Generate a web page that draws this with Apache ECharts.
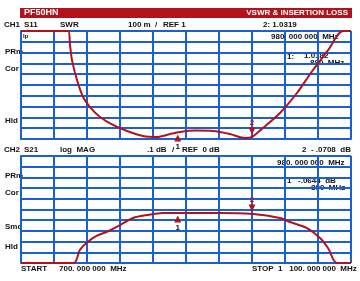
<!DOCTYPE html>
<html><head><meta charset="utf-8">
<script src="https://cdn.jsdelivr.net/npm/echarts@6/dist/echarts.min.js"></script>
<style>html,body{margin:0;padding:0;background:#fff}#c{width:360px;height:281px}</style>
</head><body><div id="c"></div>
<script>
// Frequencies (MHz) and values
const swrFreq = [700, 757, 759.4, 761.8, 767.9, 775.2, 783.6, 795.8, 811.5, 828.5, 847.9, 864.8, 880.6, 892.7, 912, 932.7, 953.3, 971.5, 980, 993.3, 1013.9, 1034.5, 1053.9, 1072, 1090.3, 1100];
const swrVal  = [2.0, 2.0, 1.87, 1.73, 1.546, 1.389, 1.296, 1.204, 1.13, 1.074, 1.028, 1.019, 1.046, 1.065, 1.078, 1.074, 1.046, 1.009, 1.019, 1.102, 1.241, 1.426, 1.639, 1.82, 2.0, 2.0];
const s21Freq = [700, 763.6, 771.5, 781.2, 792.1, 804.2, 819.9, 835.7, 852.7, 872.1, 892.7, 941.2, 981.2, 1013.9, 1026, 1046.6, 1062.4, 1072.1, 1083, 1100];
const s21Val  = [-0.5, -0.5, -0.376, -0.301, -0.245, -0.208, -0.145, -0.08, -0.052, -0.033, -0.033, -0.033, -0.043, -0.08, -0.117, -0.173, -0.266, -0.36, -0.5, -0.5];
const markerFreqs = [890, 980];
const swrMarkerVals = [1.065, 1.019];
const s21MarkerVals = [-0.033, -0.043];
const yLabelsTop = ['PRm', 'Cor', 'Hld'];
const yLabelsBot = ['PRm', 'Cor', 'Smo', 'Hld'];

const RED = '#b3121b', BLUE = '#1a5fd6', INK = '#111';
const chart = echarts.init(document.getElementById('c'));
const F = 'bold 8px "Liberation Sans", Arial, sans-serif';
function T(x, y, s, opt) {
  return Object.assign({type:'text', x:x, y:y, style:Object.assign({text:s, font:F, fill:INK, textVerticalAlign:'middle'}, opt||{})});
}
const yTop = [52, 69, 121], yBot = [176, 193, 227, 247];
const graphics = [
  {type:'rect', shape:{x:20, y:8, width:332, height:10}, style:{fill:RED}},
  T(24, 13, 'PF50HN', {fill:'#fff', font:'bold 9px "Liberation Sans", Arial, sans-serif'}),
  T(348, 13, 'VSWR & INSERTION LOSS', {fill:'#fff', textAlign:'right'}),
  T(4, 25, 'CH1'), T(24, 25, 'S11'), T(60, 25, 'SWR'), T(128, 25, '100 m'), T(155, 25, '/'), T(163, 25, 'REF 1'),
  T(263, 25, '2: 1.0319'),
  T(23, 36, 'Ip', {font:'bold 6px "Liberation Sans", Arial, sans-serif'}),
  T(271, 37, '980. 000 000  MHz'),
  T(287, 57, '1:'), T(304, 56, '1.0182'), T(310, 63, '890  MHz'),
  T(4, 150, 'CH2'), T(24, 150, 'S21'), T(60, 150, 'log  MAG'), T(147, 150, '.1 dB'), T(172, 150, '/'), T(182, 150, 'REF  0 dB'),
  T(302, 150, '2  - .0708  dB'),
  T(277, 163, '980. 000 000  MHz'),
  T(287, 181, '1'), T(298, 181, '-.0644  dB'), T(311, 188, '890  MHz'),
  T(21, 269, 'START'), T(59, 269, '700. 000 000  MHz'), T(252, 269, 'STOP  1   100. 000 000  MHz')
];
yLabelsTop.forEach((s, i) => graphics.push(T(5, yTop[i], s)));
yLabelsBot.forEach((s, i) => graphics.push(T(5, yBot[i], s)));

function axisX(gi) {
  return {type:'value', gridIndex:gi, min:700, max:1100, interval:40,
    axisLabel:{show:false}, axisTick:{show:false},
    axisLine:{show:true, lineStyle:{color:BLUE, width:2}},
    splitLine:{show:true, lineStyle:{color:BLUE, width:2}}};
}
function axisY(gi, mn, mx) {
  return {type:'value', gridIndex:gi, min:mn, max:mx, interval:0.1,
    axisLabel:{show:false}, axisTick:{show:false},
    axisLine:{show:true, lineStyle:{color:BLUE, width:2}},
    splitLine:{show:true, lineStyle:{color:BLUE, width:2}}};
}
function markers(vals) {
  return {
    silent:true, animation:false,
    data:[
      {coord:[markerFreqs[0], vals[0]], symbol:'triangle', symbolSize:[7,7], symbolOffset:[0,6],
       itemStyle:{color:RED}, label:{show:true, formatter:'1', position:'bottom', distance:1, color:INK, fontSize:8, fontWeight:'bold'}},
      {coord:[markerFreqs[1], vals[1]], symbol:'triangle', symbolRotate:180, symbolSize:[7,7], symbolOffset:[0,-6],
       itemStyle:{color:RED}, label:{show:true, formatter:'2', position:'top', distance:1, color:RED, fontSize:8, fontWeight:'bold'}}
    ]
  };
}
chart.setOption({
  animation:false,
  grid:[{left:21, top:31, width:330, height:108}, {left:21, top:156, width:330, height:107}],
  xAxis:[axisX(0), axisX(1)],
  yAxis:[axisY(0, 1, 2), axisY(1, -0.5, 0.5)],
  series:[
    {type:'line', xAxisIndex:0, yAxisIndex:0, data:swrFreq.map((f,i)=>[f, swrVal[i]]), smooth:0.3, showSymbol:false,
     lineStyle:{color:RED, width:2}, markPoint:markers(swrMarkerVals)},
    {type:'line', xAxisIndex:1, yAxisIndex:1, data:s21Freq.map((f,i)=>[f, s21Val[i]]), smooth:0.3, showSymbol:false,
     lineStyle:{color:RED, width:2}, markPoint:markers(s21MarkerVals)}
  ],
  graphic:graphics
});
</script></body></html>
